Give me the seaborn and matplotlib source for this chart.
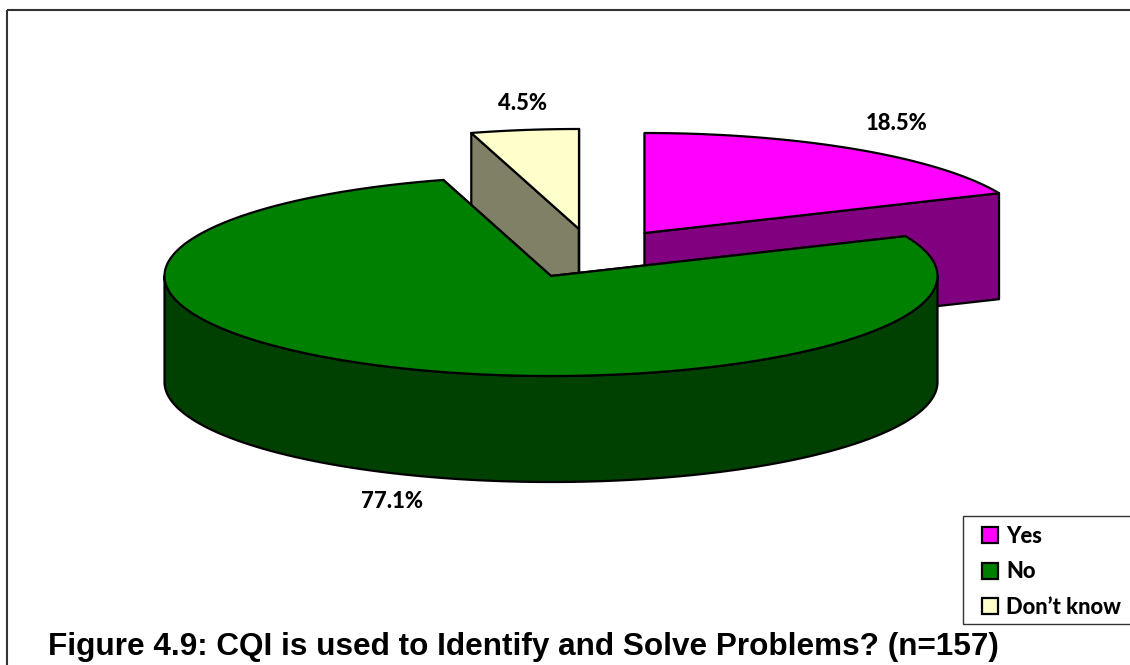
import numpy as np
import matplotlib
matplotlib.use("Agg")
import matplotlib.pyplot as plt
from matplotlib.patches import Polygon, Patch, Rectangle
import seaborn as sns

# Survey responses
categories = ["Yes", "No", "Don\u2019t know"]
shares = [18.5, 77.1, 4.5]
share_labels = ["18.5%", "77.1%", "4.5%"]
title_text = "Figure 4.9: CQI is used to Identify and Solve Problems? (n=157)"

# Slice styling
top_colors = ["#FF00FF", "#008000", "#FFFFCC"]
side_colors = ["#800080", "#004000", "#808066"]
centers = [(644.5, 233.0), (551.0, 276.0), (579.0, 229.0)]
label_xy = [(897, 124), (392, 502), (522.5, 104)]
draw_order = [0, 2, 1]
RX, RY, DEPTH = 386.5, 100.0, 106.0
EDGE = 1.6

sns.set_theme(style="white")
sns.set_palette(top_colors)
plt.rcParams["font.family"] = ["Lato", "DejaVu Sans"]

fig = plt.figure(figsize=(11.3, 6.65), dpi=100, facecolor="white")
ax = fig.add_axes([0, 0, 1, 1])
ax.set_xlim(0, 1130)
ax.set_ylim(665, 0)
ax.axis("off")


def rim(center, start, stop, drop=0.0):
    """Points on the elliptical rim between two angles measured from 12 o'clock, clockwise."""
    steps = max(int(abs(stop - start) * 2), 2)
    t = np.radians(np.linspace(start, stop, steps))
    return np.column_stack([center[0] + RX * np.sin(t), center[1] - RY * np.cos(t) + drop])


def add_face(points, color):
    ax.add_patch(Polygon(points, closed=True, facecolor=color, edgecolor="black",
                         linewidth=EDGE, joinstyle="round"))


# Turn the shares into clockwise angular spans starting at 12 o'clock
edges = np.cumsum([0.0] + shares) / sum(shares) * 360.0

for i in draw_order:
    a0, a1 = edges[i], edges[i + 1]
    c = centers[i]
    # Radial cut walls
    for a in (a0, a1):
        p = rim(c, a, a)[0]
        wall = [c, tuple(p), (p[0], p[1] + DEPTH), (c[0], c[1] + DEPTH)]
        add_face(wall, side_colors[i])
    # Outer wall: only the front half of the rim faces the viewer
    lo, hi = max(a0, 90.0), min(a1, 270.0)
    if hi > lo:
        upper = rim(c, lo, hi)
        lower = rim(c, hi, lo, DEPTH)
        add_face(np.vstack([upper, lower]), side_colors[i])
    # Top face
    add_face(np.vstack([[c], rim(c, a0, a1)]), top_colors[i])

for text, (x, y) in zip(share_labels, label_xy):
    ax.text(x, y, text, ha="center", va="center", fontsize=15.8, fontweight="black", color="black")

# Outer chart frame: only top and left sides fall inside the canvas
ax.plot([7, 7], [665, 10], color="#333333", lw=1.5, solid_capstyle="butt")
ax.plot([7, 1130], [10, 10], color="#333333", lw=1.5, solid_capstyle="butt")

# Legend box runs off the right side of the canvas
ax.add_patch(Rectangle((963, 516), 180, 108, facecolor="white", edgecolor="#333333",
                       linewidth=1.0, zorder=4))
handles = [Patch(facecolor=col, edgecolor="black", linewidth=1.6) for col in top_colors]
legend = ax.legend(handles, categories, loc="upper left", bbox_to_anchor=(982, 526),
                   bbox_transform=ax.transData, borderaxespad=0,
                   handlelength=0.73, handleheight=0.73, handletextpad=0.36,
                   labelspacing=0.66, borderpad=0, frameon=False, labelcolor="black",
                   prop={"family": "Lato", "weight": "black", "size": 15.8})
legend.set_zorder(5)

ax.text(48, 655, title_text, ha="left", va="baseline", fontsize=22.7, fontweight="bold",
        family="Liberation Sans", color="black", zorder=6)

fig.savefig("out.png", dpi=100)
